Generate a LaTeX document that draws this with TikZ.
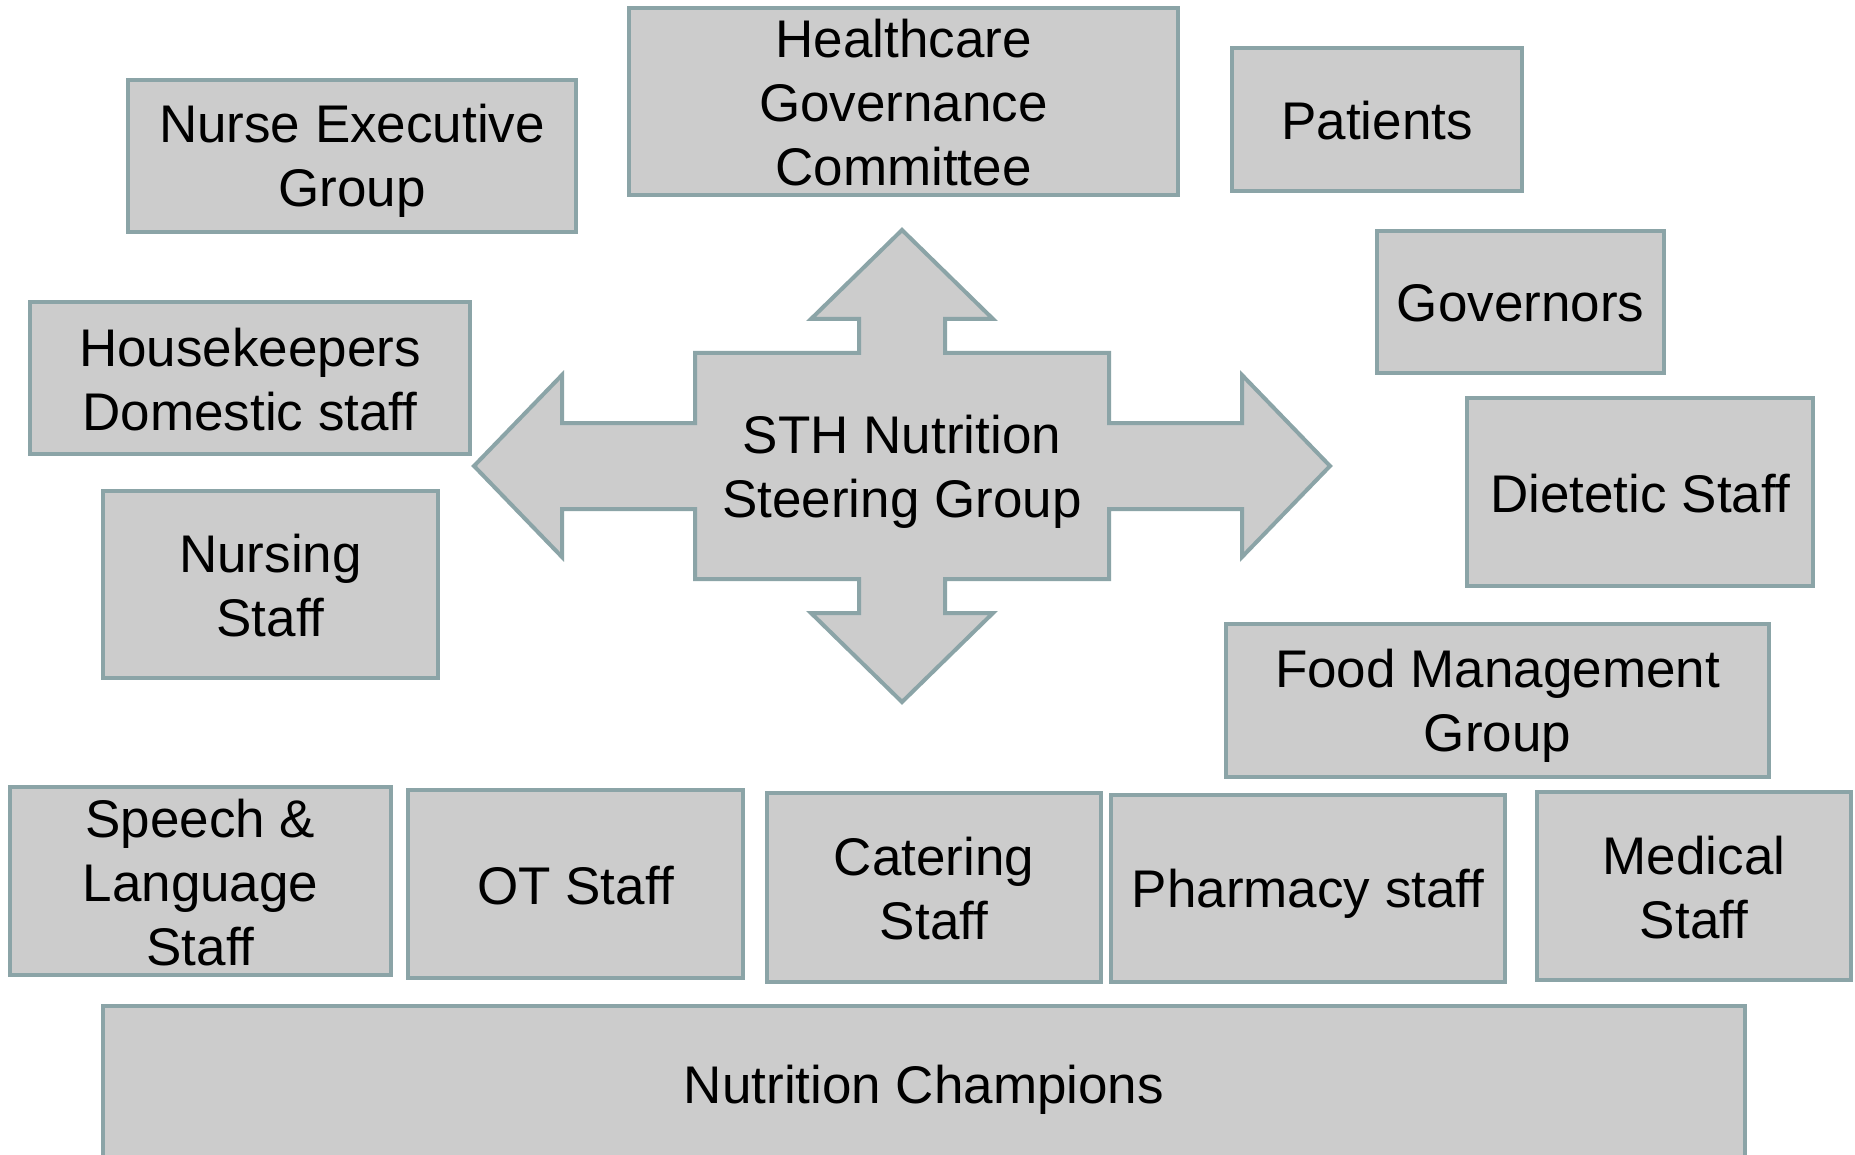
\documentclass[tikz,border=0pt]{standalone}
\usepackage{fontspec}
\setmainfont{Liberation Sans}
\definecolor{edgegrey}{RGB}{139,164,167}
\definecolor{boxgrey}{RGB}{204,204,204}
% invisible rules giving every label the same ascent (first line) and descent (last line)
\newcommand{\topstrut}{\rule{0pt}{49pt}}
\newcommand{\botstrut}{\rule[-9pt]{0pt}{9pt}}
\tikzset{
  labeltext/.style={font=\fontsize{53pt}{64pt}\selectfont, align=center, text=black,
                    inner sep=0pt},
  box/.style={labeltext, draw=edgegrey, fill=boxgrey, line width=4pt,
              rectangle, outer sep=0pt},
  crossshape/.style={draw=edgegrey, fill=boxgrey, line width=4pt, line join=miter}
}
% place a box by its corners: #1 name, #2 left, #3 top, #4 right, #5 bottom, #6 text
\newcommand{\groupbox}[6]{%
  \pgfmathsetmacro{\bw}{#4-#2}\pgfmathsetmacro{\bh}{#5-#3}%
  \pgfmathsetmacro{\bx}{(#2+#4)/2}\pgfmathsetmacro{\by}{(#3+#5)/2}%
  \node[box, minimum width=\bw pt, minimum height=\bh pt] (#1) at (\bx,\by)
    {\topstrut#6\botstrut};}
\begin{document}
\begin{tikzpicture}[x=1pt,y=-1pt]
  \clip (0,0) rectangle (1855,1155);
  \fill[white] (0,0) rectangle (1855,1155);

  % central four-way arrow
  \draw[crossshape]
    (902,230) -- (993,319) -- (945,319) -- (945,353) -- (1109,353) -- (1109,423)
    -- (1242,423) -- (1242,375) -- (1330,466) -- (1242,557) -- (1242,509)
    -- (1109,509) -- (1109,579) -- (945,579) -- (945,613) -- (993,613)
    -- (902,702) -- (811,613) -- (859,613) -- (859,579) -- (695,579)
    -- (695,509) -- (562,509) -- (562,557) -- (474,466) -- (562,375)
    -- (562,423) -- (695,423) -- (695,353) -- (859,353) -- (859,319)
    -- (811,319) -- cycle;
  \node[labeltext] (sth) at (902,466) {\topstrut STH Nutrition\\Steering Group\botstrut};

  % surrounding groups
  \groupbox{hgc}{629}{8}{1178}{195}{Healthcare\\Governance\\Committee}
  \groupbox{neg}{128}{80}{576}{232}{Nurse Executive\\Group}
  \groupbox{pat}{1232}{48}{1522}{191}{Patients}
  \groupbox{gov}{1377}{231}{1664}{373}{Governors}
  \groupbox{hk}{30}{302}{470}{454}{Housekeepers\\Domestic staff}
  \groupbox{nurs}{103}{491}{438}{678}{Nursing\\Staff}
  \groupbox{diet}{1467}{398}{1813}{586}{Dietetic Staff}
  \groupbox{food}{1226}{624}{1769}{777}{Food Management\\Group}
  \groupbox{speech}{10}{787}{391}{975}{Speech \&\\Language\\Staff}
  \groupbox{ot}{408}{790}{743}{978}{OT Staff}
  \groupbox{cat}{767}{793}{1101}{982}{Catering\\Staff}
  \groupbox{pharm}{1111}{795}{1505}{982}{Pharmacy staff}
  \groupbox{med}{1537}{792}{1851}{980}{Medical\\Staff}
  \groupbox{champ}{103}{1006}{1745}{1162}{Nutrition Champions}
\end{tikzpicture}
\end{document}
